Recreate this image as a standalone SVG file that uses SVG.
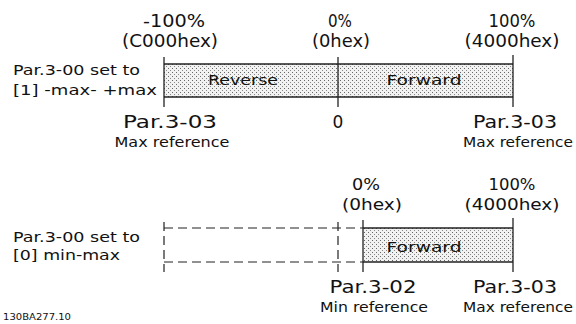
<svg xmlns="http://www.w3.org/2000/svg" width="576" height="324" viewBox="0 0 576 324">
<defs>
<pattern id="dots" width="4" height="4" patternUnits="userSpaceOnUse">
<rect width="4" height="4" fill="#f2f2f2"/>
<rect x="0" y="0" width="1" height="1" fill="#666"/>
<rect x="2" y="2" width="1" height="1" fill="#888"/>
</pattern>
</defs>
<style>
text{font-family:"DejaVu Sans","Liberation Sans",sans-serif;fill:#111}
.big{font-size:17px}
.bs{font-size:15.5px}
.mid{font-size:13.5px}
.sm{font-size:9px}
.ln{stroke:#222;stroke-width:1.3;fill:none}
.dash{stroke:#222;stroke-width:1.2;fill:none;stroke-dasharray:9 5}
.bar{fill:url(#dots);stroke:none}
</style>
<g id="top-bar">
<rect class="bar" x="164" y="64" width="349" height="33"/>
<line class="ln" x1="164" y1="64" x2="513" y2="64"/>
<line class="ln" x1="164" y1="97" x2="513" y2="97"/>
<line class="ln" x1="164" y1="57" x2="164" y2="107"/>
<line class="ln" x1="338" y1="57" x2="338" y2="107"/>
<line class="ln" x1="513" y1="55" x2="513" y2="107"/>
<text class="mid" x="243" y="85" text-anchor="middle" textLength="70" lengthAdjust="spacingAndGlyphs">Reverse</text>
<text class="mid" x="424" y="85" text-anchor="middle" textLength="75" lengthAdjust="spacingAndGlyphs">Forward</text>
</g>
<g id="top-labels">
<text class="big" x="174" y="27" text-anchor="middle" textLength="62" lengthAdjust="spacingAndGlyphs">-100%</text>
<text class="big" x="170" y="47" text-anchor="middle" textLength="96" lengthAdjust="spacingAndGlyphs">(C000hex)</text>
<text class="big" x="340" y="27" text-anchor="middle" textLength="24" lengthAdjust="spacingAndGlyphs">0%</text>
<text class="big" x="341" y="47" text-anchor="middle" textLength="58" lengthAdjust="spacingAndGlyphs">(0hex)</text>
<text class="big" x="512" y="27" text-anchor="middle" textLength="47" lengthAdjust="spacingAndGlyphs">100%</text>
<text class="big" x="512" y="47" text-anchor="middle" textLength="95" lengthAdjust="spacingAndGlyphs">(4000hex)</text>
<text class="mid" x="13" y="75" textLength="127" lengthAdjust="spacingAndGlyphs">Par.3-00 set to</text>
<text class="mid" x="13" y="95" textLength="144" lengthAdjust="spacingAndGlyphs">[1] -max- +max</text>
<text class="big" x="170" y="128" text-anchor="middle" textLength="94" lengthAdjust="spacingAndGlyphs">Par.3-03</text>
<text class="mid" x="172" y="147" text-anchor="middle" textLength="115" lengthAdjust="spacingAndGlyphs">Max reference</text>
<text class="big" x="338" y="128" text-anchor="middle">0</text>
<text class="big" x="515" y="128" text-anchor="middle" textLength="84" lengthAdjust="spacingAndGlyphs">Par.3-03</text>
<text class="mid" x="518" y="147" text-anchor="middle" textLength="110" lengthAdjust="spacingAndGlyphs">Max reference</text>
</g>
<g id="bottom-bar">
<line class="dash" x1="164" y1="228" x2="363" y2="228"/>
<line class="dash" x1="164" y1="262" x2="363" y2="262"/>
<line class="dash" x1="164" y1="222" x2="164" y2="272"/>
<line class="dash" x1="338" y1="222" x2="338" y2="272"/>
<rect class="bar" x="363" y="228" width="150" height="34"/>
<line class="ln" x1="363" y1="228" x2="513" y2="228"/>
<line class="ln" x1="363" y1="262" x2="513" y2="262"/>
<line class="ln" x1="363" y1="220" x2="363" y2="272"/>
<line class="ln" x1="513" y1="218" x2="513" y2="272"/>
<text class="mid" x="424" y="252" text-anchor="middle" textLength="75" lengthAdjust="spacingAndGlyphs">Forward</text>
</g>
<g id="bottom-labels">
<text class="bs" x="366" y="190" text-anchor="middle" textLength="28" lengthAdjust="spacingAndGlyphs">0%</text>
<text class="bs" x="372" y="210" text-anchor="middle" textLength="60" lengthAdjust="spacingAndGlyphs">(0hex)</text>
<text class="bs" x="512" y="190" text-anchor="middle" textLength="47" lengthAdjust="spacingAndGlyphs">100%</text>
<text class="bs" x="512" y="210" text-anchor="middle" textLength="95" lengthAdjust="spacingAndGlyphs">(4000hex)</text>
<text class="mid" x="13" y="242" textLength="127" lengthAdjust="spacingAndGlyphs">Par.3-00 set to</text>
<text class="mid" x="13" y="260" textLength="107" lengthAdjust="spacingAndGlyphs">[0] min-max</text>
<text class="big" x="373" y="293" text-anchor="middle" textLength="87" lengthAdjust="spacingAndGlyphs">Par.3-02</text>
<text class="mid" x="374" y="312" text-anchor="middle" textLength="108" lengthAdjust="spacingAndGlyphs">Min reference</text>
<text class="big" x="515" y="293" text-anchor="middle" textLength="84" lengthAdjust="spacingAndGlyphs">Par.3-03</text>
<text class="mid" x="518" y="312" text-anchor="middle" textLength="110" lengthAdjust="spacingAndGlyphs">Max reference</text>
<text class="sm" x="3" y="320" textLength="68" lengthAdjust="spacingAndGlyphs">130BA277.10</text>
</g>
</svg>
